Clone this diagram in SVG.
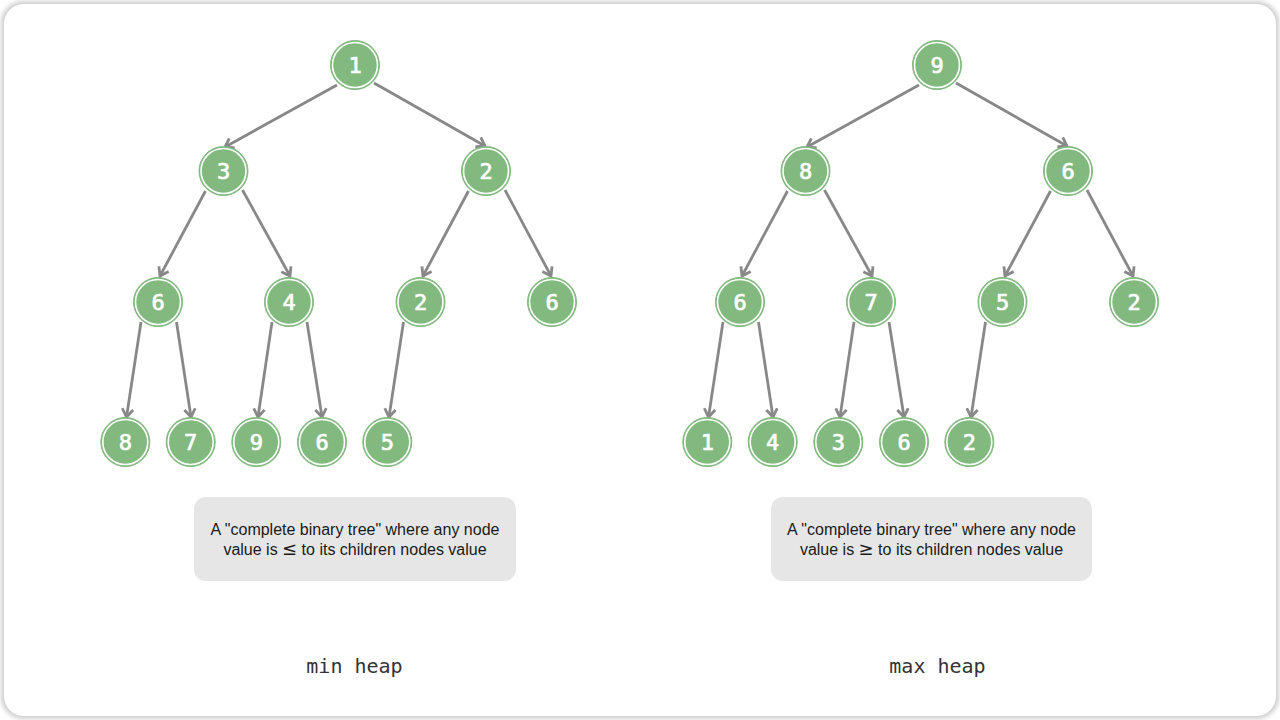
<svg xmlns="http://www.w3.org/2000/svg" width="1280" height="720" viewBox="0 0 1280 720">
<style>
.node circle.o{fill:#82b97f;stroke:#82b97f;stroke-width:1}
.node circle.i{fill:none;stroke:#ffffff;stroke-width:1.6}
.node text{font-family:"DejaVu Sans Mono",monospace;font-size:22px;fill:#ffffff;stroke:#ffffff;stroke-width:0.7;text-anchor:middle}
.edges line{stroke:#888888;stroke-width:2.8;fill:none}
.box rect{fill:#e6e6e6}
.box text{font-family:"Liberation Sans",Arial,sans-serif;font-size:16px;fill:#1a1a1a;text-anchor:middle}
.title{font-family:"DejaVu Sans Mono",monospace;font-size:20px;fill:#333333;text-anchor:middle}
</style>
<defs>
<marker id="arr" markerUnits="userSpaceOnUse" markerWidth="16" markerHeight="16" refX="0" refY="0" viewBox="-10 -8 12 16" orient="auto">
<path d="M-8,-5.5 L0,0 L-8,5.5" fill="none" stroke="#888888" stroke-width="2.8" stroke-linejoin="miter"/>
</marker>
<filter id="sh" x="-5%" y="-5%" width="110%" height="110%"><feGaussianBlur stdDeviation="2"/></filter>
</defs>
<rect x="1" y="1" width="1278" height="718" rx="22" fill="#d0d0d0" filter="url(#sh)"/>
<rect x="4" y="4" width="1272" height="712" rx="20" fill="#ffffff"/>

<g id="connectors" class="edges">
<!-- min heap -->
<line x1="337" y1="85" x2="225" y2="147" marker-end="url(#arr)"/>
<line x1="374" y1="83" x2="485" y2="146" marker-end="url(#arr)"/>
<line x1="205.5" y1="191" x2="160" y2="276" marker-end="url(#arr)"/>
<line x1="242.5" y1="190" x2="290" y2="276" marker-end="url(#arr)"/>
<line x1="468.5" y1="191" x2="423" y2="276" marker-end="url(#arr)"/>
<line x1="505" y1="190" x2="551" y2="276" marker-end="url(#arr)"/>
<line x1="141" y1="322" x2="126.5" y2="417" marker-end="url(#arr)"/>
<line x1="176.5" y1="322" x2="191" y2="417" marker-end="url(#arr)"/>
<line x1="272" y1="322" x2="258" y2="417" marker-end="url(#arr)"/>
<line x1="307" y1="322" x2="322" y2="417" marker-end="url(#arr)"/>
<line x1="403.5" y1="322" x2="389" y2="417" marker-end="url(#arr)"/>
<!-- max heap -->
<line x1="919" y1="85" x2="807" y2="147" marker-end="url(#arr)"/>
<line x1="956" y1="83" x2="1067" y2="146" marker-end="url(#arr)"/>
<line x1="787.5" y1="191" x2="742" y2="276" marker-end="url(#arr)"/>
<line x1="824.5" y1="190" x2="872" y2="276" marker-end="url(#arr)"/>
<line x1="1050.5" y1="191" x2="1005" y2="276" marker-end="url(#arr)"/>
<line x1="1087" y1="190" x2="1133" y2="276" marker-end="url(#arr)"/>
<line x1="723" y1="322" x2="708.5" y2="417" marker-end="url(#arr)"/>
<line x1="758.5" y1="322" x2="773" y2="417" marker-end="url(#arr)"/>
<line x1="854" y1="322" x2="840" y2="417" marker-end="url(#arr)"/>
<line x1="889" y1="322" x2="904" y2="417" marker-end="url(#arr)"/>
<line x1="985.5" y1="322" x2="971" y2="417" marker-end="url(#arr)"/>
</g>

<!-- min heap nodes -->
<g id="min-n1" class="node"><circle class="o" cx="355" cy="65" r="24.5"/><circle class="i" cx="355" cy="65" r="22.5"/><text x="355" y="73">1</text></g>
<g id="min-n2" class="node"><circle class="o" cx="223.5" cy="171" r="24.5"/><circle class="i" cx="223.5" cy="171" r="22.5"/><text x="223.5" y="179">3</text></g>
<g id="min-n3" class="node"><circle class="o" cx="486" cy="171" r="24.5"/><circle class="i" cx="486" cy="171" r="22.5"/><text x="486" y="179">2</text></g>
<g id="min-n4" class="node"><circle class="o" cx="158" cy="302" r="24.5"/><circle class="i" cx="158" cy="302" r="22.5"/><text x="158" y="310">6</text></g>
<g id="min-n5" class="node"><circle class="o" cx="289" cy="302" r="24.5"/><circle class="i" cx="289" cy="302" r="22.5"/><text x="289" y="310">4</text></g>
<g id="min-n6" class="node"><circle class="o" cx="420.5" cy="302" r="24.5"/><circle class="i" cx="420.5" cy="302" r="22.5"/><text x="420.5" y="310">2</text></g>
<g id="min-n7" class="node"><circle class="o" cx="552" cy="302" r="24.5"/><circle class="i" cx="552" cy="302" r="22.5"/><text x="552" y="310">6</text></g>
<g id="min-n8" class="node"><circle class="o" cx="125.3" cy="442" r="24.5"/><circle class="i" cx="125.3" cy="442" r="22.5"/><text x="125.3" y="450">8</text></g>
<g id="min-n9" class="node"><circle class="o" cx="190.7" cy="442" r="24.5"/><circle class="i" cx="190.7" cy="442" r="22.5"/><text x="190.7" y="450">7</text></g>
<g id="min-n10" class="node"><circle class="o" cx="256.3" cy="442" r="24.5"/><circle class="i" cx="256.3" cy="442" r="22.5"/><text x="256.3" y="450">9</text></g>
<g id="min-n11" class="node"><circle class="o" cx="322" cy="442" r="24.5"/><circle class="i" cx="322" cy="442" r="22.5"/><text x="322" y="450">6</text></g>
<g id="min-n12" class="node"><circle class="o" cx="387.3" cy="442" r="24.5"/><circle class="i" cx="387.3" cy="442" r="22.5"/><text x="387.3" y="450">5</text></g>

<!-- max heap nodes -->
<g id="max-n1" class="node"><circle class="o" cx="937" cy="65" r="24.5"/><circle class="i" cx="937" cy="65" r="22.5"/><text x="937" y="73">9</text></g>
<g id="max-n2" class="node"><circle class="o" cx="805.5" cy="171" r="24.5"/><circle class="i" cx="805.5" cy="171" r="22.5"/><text x="805.5" y="179">8</text></g>
<g id="max-n3" class="node"><circle class="o" cx="1068" cy="171" r="24.5"/><circle class="i" cx="1068" cy="171" r="22.5"/><text x="1068" y="179">6</text></g>
<g id="max-n4" class="node"><circle class="o" cx="740" cy="302" r="24.5"/><circle class="i" cx="740" cy="302" r="22.5"/><text x="740" y="310">6</text></g>
<g id="max-n5" class="node"><circle class="o" cx="871" cy="302" r="24.5"/><circle class="i" cx="871" cy="302" r="22.5"/><text x="871" y="310">7</text></g>
<g id="max-n6" class="node"><circle class="o" cx="1002.5" cy="302" r="24.5"/><circle class="i" cx="1002.5" cy="302" r="22.5"/><text x="1002.5" y="310">5</text></g>
<g id="max-n7" class="node"><circle class="o" cx="1134" cy="302" r="24.5"/><circle class="i" cx="1134" cy="302" r="22.5"/><text x="1134" y="310">2</text></g>
<g id="max-n8" class="node"><circle class="o" cx="707.3" cy="442" r="24.5"/><circle class="i" cx="707.3" cy="442" r="22.5"/><text x="707.3" y="450">1</text></g>
<g id="max-n9" class="node"><circle class="o" cx="772.7" cy="442" r="24.5"/><circle class="i" cx="772.7" cy="442" r="22.5"/><text x="772.7" y="450">4</text></g>
<g id="max-n10" class="node"><circle class="o" cx="838.3" cy="442" r="24.5"/><circle class="i" cx="838.3" cy="442" r="22.5"/><text x="838.3" y="450">3</text></g>
<g id="max-n11" class="node"><circle class="o" cx="904" cy="442" r="24.5"/><circle class="i" cx="904" cy="442" r="22.5"/><text x="904" y="450">6</text></g>
<g id="max-n12" class="node"><circle class="o" cx="969.3" cy="442" r="24.5"/><circle class="i" cx="969.3" cy="442" r="22.5"/><text x="969.3" y="450">2</text></g>

<g id="min-note" class="box">
<rect x="194" y="497" width="322" height="84" rx="12"/>
<text x="355" y="535">A "complete binary tree" where any node</text>
<text x="355" y="555">value is <tspan font-family="DejaVu Sans, sans-serif" font-size="18">≤</tspan> to its children nodes value</text>
</g>
<g id="max-note" class="box">
<rect x="771" y="497" width="321" height="84" rx="12"/>
<text x="931.5" y="535">A "complete binary tree" where any node</text>
<text x="931.5" y="555">value is <tspan font-family="DejaVu Sans, sans-serif" font-size="18">≥</tspan> to its children nodes value</text>
</g>

<text id="min-title" class="title" x="354.5" y="673">min heap</text>
<text id="max-title" class="title" x="937.5" y="673">max heap</text>
</svg>
